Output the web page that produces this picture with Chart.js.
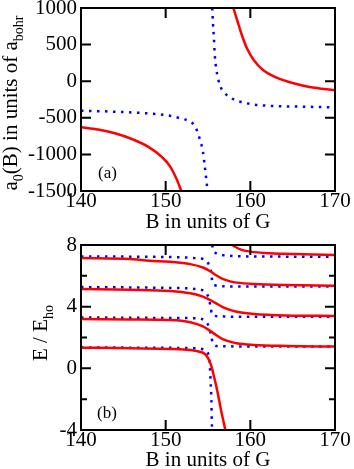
<!DOCTYPE html>
<html>
<head>
<meta charset="utf-8">
<script src="https://cdn.jsdelivr.net/npm/chart.js@4.4.1/dist/chart.umd.min.js"></script>
<style>
    html, body { margin: 0; padding: 0; background: #fff; overflow: hidden; }
    #wrap { position: relative; width: 354px; height: 469px; }
    canvas { position: absolute; left: 0; }
    #chartA { top: 0; }
    #chartB { top: 236px; }
</style>
</head>
<body>
<div id="wrap">
    <canvas id="chartA" width="354" height="236"></canvas>
    <canvas id="chartB" width="354" height="233"></canvas>
</div>
<script>
// ---- panel (a): scattering length vs field, [B (G), a0 (a_bohr)] ----
const aRedLow = [[140, -630], [142, -660], [144, -712], [146, -790], [148, -900], [149.5, -1030], [150.5, -1160], [151.3, -1340], [151.85, -1500]];
const aRedHigh = [[158.0, 1000], [158.5, 813], [159.0, 631], [159.6, 449], [160.4, 290], [161.5, 153], [163.1, 48], [165.1, -29], [167.0, -79], [170, -124]];
const aBlueLow = [[140, -403], [143.8, -416], [147.8, -439], [150.5, -471], [151.7, -507], [152.9, -553], [153.5, -621], [154.0, -780], [154.4, -963], [154.6, -1145], [154.85, -1395], [154.95, -1500]];
const aBlueHigh = [[155.5, 1000], [155.6, 768], [155.7, 586], [155.8, 358], [156.0, 153], [156.4, -52], [156.9, -152], [157.6, -220], [158.4, -266], [160, -311], [161.9, -334], [163.9, -343], [165.9, -348], [167.8, -352], [170, -356]];

// ---- panel (b): trap energies vs field, [B (G), E / E_ho] ----
const bRed1 = [[140, 1.34], [145.8, 1.30], [150.5, 1.26], [152.9, 1.19], [154.0, 1.08], [154.6, 0.95], [155.0, 0.68], [155.4, 0.15], [155.65, -0.4], [156.15, -1.6], [156.5, -2.6], [156.85, -3.5], [157.05, -4]];
const bRed2 = [[140, 3.20], [145.8, 3.17], [150.5, 3.13], [152.9, 2.99], [154.4, 2.72], [155.6, 2.30], [156.8, 1.88], [158.4, 1.63], [160.4, 1.52], [164.3, 1.45], [170, 1.41]];
const bRed3 = [[140, 5.15], [145.8, 5.10], [150.5, 5.02], [152.9, 4.87], [154.4, 4.65], [155.6, 4.33], [156.8, 3.96], [158.4, 3.67], [160.4, 3.53], [164.3, 3.43], [170, 3.40]];
const bRed4 = [[140, 7.16], [145.8, 7.09], [148.1, 6.98], [150.5, 6.91], [152.9, 6.76], [154.4, 6.54], [155.3, 6.28], [156.0, 6.02], [156.8, 5.78], [157.6, 5.64], [158.4, 5.56], [160.4, 5.47], [164.3, 5.40], [170, 5.36]];
const bRed5 = [[157.8, 8.0], [158.8, 7.72], [160.0, 7.57], [162.3, 7.46], [166.3, 7.40], [170, 7.35]];
const bBlue1 = [[140, 1.36], [150, 1.33], [153.7, 1.30], [154.4, 1.24], [155.0, 0.98], [155.2, 0.33], [155.3, -0.75], [155.4, -2.05], [155.45, -3.45], [155.5, -4]];
const bBlue2 = [[140, 3.30], [150, 3.27], [153.7, 3.25], [154.6, 3.09], [155.1, 2.70], [155.4, 2.05], [155.6, 1.58], [156.4, 1.43], [170, 1.41]];
const bBlue3 = [[140, 5.27], [150, 5.22], [153.7, 5.13], [154.6, 4.97], [155.1, 4.54], [155.3, 4.0], [155.5, 3.46], [156.4, 3.38], [157.6, 3.35], [170, 3.35]];
const bBlue4 = [[140, 7.26], [150, 7.22], [153.7, 7.14], [154.8, 6.98], [155.2, 6.59], [155.4, 6.16], [155.5, 5.62], [155.8, 5.40], [156.4, 5.34], [157.6, 5.31], [170, 5.30]];
const bBlue5 = [[155.5, 8.0], [155.6, 7.68], [155.9, 7.48], [156.4, 7.38], [157.5, 7.30], [160, 7.26], [170, 7.24]];

// ticks and texts
const xTicks = [140, 150, 160, 170];
const aYTicks = [-1500, -1000, -500, 0, 500, 1000];
const bYTicks = [-4, 0, 4, 8];
const bYMinor = [-2, 2, 6];
const xTitle = 'B in units of G';
const aYTitle = [['a', false], ['0', true], ['(B) in units of a', false], ['bohr', true]];
const bYTitle = [['E / E', false], ['ho', true]];

const FONT = 'Liberation Serif';

function drawVerticalTitle(ctx, parts, x, cy) {
    const main = '21px "' + FONT + '"';
    const sub = '14px "' + FONT + '"';
    let total = 0;
    parts.forEach(([s, isSub]) => {
        ctx.font = isSub ? sub : main;
        total += ctx.measureText(s).width;
    });
    ctx.save();
    ctx.translate(x, cy);
    ctx.rotate(-Math.PI / 2);
    ctx.textBaseline = 'alphabetic';
    ctx.textAlign = 'left';
    let pos = -total / 2;
    parts.forEach(([s, isSub]) => {
        ctx.font = isSub ? sub : main;
        ctx.fillText(s, pos, isSub ? 6 : 0);
        pos += ctx.measureText(s).width;
    });
    ctx.restore();
}

// box frame, inward ticks on all sides, panel tag and y title
const framePlugin = {
    id: 'frame',
    afterDatasetsDraw(chart, args, opts) {
        const { ctx, chartArea: area, scales: { x, y } } = chart;
        ctx.save();
        ctx.strokeStyle = '#000';
        ctx.lineWidth = 2;
        ctx.beginPath();
        x.ticks.forEach(t => {
            if (t.value <= x.min || t.value >= x.max) return;
            const px = x.getPixelForValue(t.value);
            ctx.moveTo(px, area.bottom); ctx.lineTo(px, area.bottom - 10);
            ctx.moveTo(px, area.top); ctx.lineTo(px, area.top + 10);
        });
        const yTick = (v, len) => {
            const py = y.getPixelForValue(v);
            ctx.moveTo(area.left, py); ctx.lineTo(area.left + len, py);
            ctx.moveTo(area.right, py); ctx.lineTo(area.right - len, py);
        };
        y.ticks.forEach(t => {
            if (t.value <= y.min || t.value >= y.max) return;
            yTick(t.value, 10);
        });
        (opts.minor || []).forEach(v => yTick(v, 6));
        ctx.stroke();
        ctx.strokeRect(area.left, area.top, area.width, area.height);

        ctx.fillStyle = '#000';
        ctx.font = '17px "' + FONT + '"';
        ctx.textBaseline = 'alphabetic';
        ctx.fillText(opts.tag, area.left + opts.tagDx, area.top + opts.tagDy);
        drawVerticalTitle(ctx, opts.yTitle, opts.titleX, opts.titleY);
        ctx.restore();
    }
};

function line(points, color, dotted) {
    return {
        data: points.map(([x, y]) => ({ x, y })),
        showLine: true,
        borderColor: color,
        borderWidth: 2.5,
        borderDash: dotted ? [2.5, 5.5] : [],
        pointRadius: 0,
        cubicInterpolationMode: 'monotone',
        fill: false,
        clip: 0
    };
}

function createPanel(canvasId, datasets, cfg) {
    const tickFont = { family: FONT, size: 21, lineHeight: 1 };
    return new Chart(document.getElementById(canvasId), {
        type: 'scatter',
        data: { datasets },
        options: {
            responsive: false,
            animation: false,
            events: [],
            layout: { padding: { top: cfg.top, right: 19, left: 0, bottom: 0 } },
            plugins: {
                legend: { display: false },
                tooltip: { enabled: false },
                frame: cfg.frame
            },
            scales: {
                x: {
                    type: 'linear',
                    min: 140,
                    max: 170,
                    grid: { display: false, drawTicks: false },
                    border: { display: false },
                    afterBuildTicks: s => { s.ticks = xTicks.map(v => ({ value: v })); },
                    ticks: { font: tickFont, color: '#000', padding: 0, maxRotation: 0, autoSkip: false, callback: v => String(v) },
                    title: { display: true, text: xTitle, color: '#000', font: tickFont, padding: { top: 0, bottom: cfg.titlePad } },
                    afterFit: s => { s.height = cfg.xHeight; s.paddingLeft = 0; s.paddingRight = 0; }
                },
                y: {
                    min: cfg.yMin,
                    max: cfg.yMax,
                    grid: { display: false, drawTicks: false },
                    border: { display: false },
                    afterBuildTicks: s => { s.ticks = cfg.yTicks.map(v => ({ value: v })); },
                    ticks: { font: tickFont, color: '#000', padding: 4, autoSkip: false, callback: v => String(v) },
                    afterFit: s => { s.width = 81; s.paddingTop = 0; s.paddingBottom = 0; }
                }
            }
        },
        plugins: [framePlugin]
    });
}

const RED = '#ff0000';
const BLUE = '#0000ff';

createPanel('chartA', [
    line(aBlueLow, BLUE, true),
    line(aBlueHigh, BLUE, true),
    line(aRedLow, RED, false),
    line(aRedHigh, RED, false)
], {
    top: 8, xHeight: 45, titlePad: 3.5,
    yMin: -1500, yMax: 1000, yTicks: aYTicks,
    frame: { tag: '(a)', tagDx: 17, tagDy: 170, yTitle: aYTitle, titleX: 17, titleY: 103, minor: [] }
});

createPanel('chartB', [
    line(bRed1, RED, false),
    line(bRed2, RED, false),
    line(bRed3, RED, false),
    line(bRed4, RED, false),
    line(bRed5, RED, false),
    line(bBlue1, BLUE, true),
    line(bBlue2, BLUE, true),
    line(bBlue3, BLUE, true),
    line(bBlue4, BLUE, true),
    line(bBlue5, BLUE, true)
], {
    top: 9, xHeight: 39, titlePad: -2.3,
    yMin: -4, yMax: 8, yTicks: bYTicks,
    frame: { tag: '(b)', tagDx: 16, tagDy: 173, yTitle: bYTitle, titleX: 47, titleY: 97, minor: bYMinor }
});
</script>
</body>
</html>
